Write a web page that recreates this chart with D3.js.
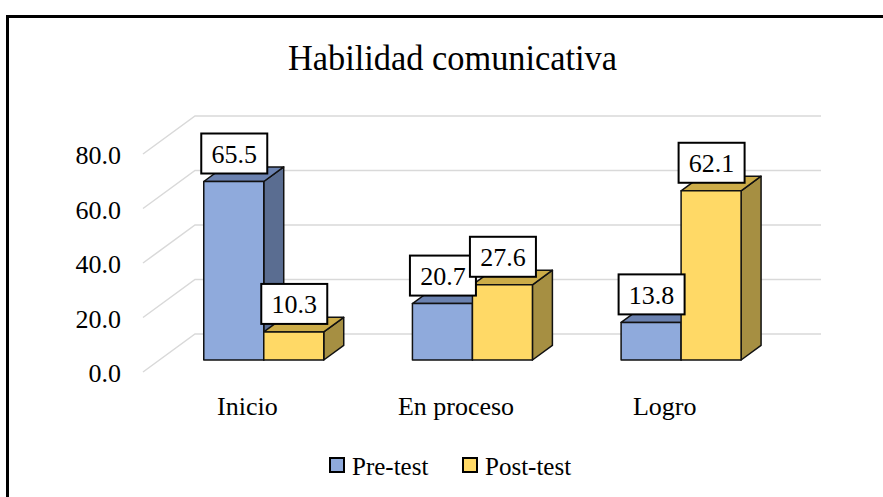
<!DOCTYPE html>
<html>
<head>
<meta charset="utf-8">
<script src="https://cdn.jsdelivr.net/npm/d3@7"></script>
<style>
  body { margin: 0; background: #fff; }
</style>
</head>
<body>
<script>
// chart data
var categories = ["Inicio", "En proceso", "Logro"];
var seriesNames = ["Pre-test", "Post-test"];
var preTest = [65.5, 20.7, 13.8];
var postTest = [10.3, 27.6, 62.1];
var yTicks = [0, 20, 40, 60, 80];

var svgWidth = 883;
var svgHeight = 497;
var fontFamily = "'Liberation Serif', 'Times New Roman', Tinos, 'DejaVu Serif', serif";

// front plane of the 3d box, and the depth offset to the back wall
var plot = { left: 143, right: 769, top: 154, bottom: 372 };
var depth = { dx: 52, dy: -38 };
var barFront = 0.316, barBack = 0.70;
var barWidth = 60;

var colors = {
  "Pre-test": { front: "#8faadc", side: "#5a6d91", top: "#6b82b0" },
  "Post-test": { front: "#ffd966", side: "#a68f42", top: "#ccac48" }
};

var svg = d3.select("body")
  .append("svg")
  .attr("width", svgWidth)
  .attr("height", svgHeight)
  .style("font-family", fontFamily);

// outer frame
svg.append("rect")
  .attr("x", 7.5)
  .attr("y", 16.5)
  .attr("width", svgWidth + 20)
  .attr("height", svgHeight + 20)
  .attr("fill", "none")
  .attr("stroke", "#000")
  .attr("stroke-width", 3);

// title
svg.append("text")
  .attr("x", 452.5)
  .attr("y", 70)
  .attr("text-anchor", "middle")
  .attr("font-size", 35)
  .attr("textLength", 329)
  .attr("lengthAdjust", "spacingAndGlyphs")
  .text("Habilidad comunicativa");

var yScale = d3.scaleLinear()
  .domain([0, 80])
  .range([plot.bottom, plot.top]);

var xScale = d3.scaleBand()
  .domain(categories)
  .range([plot.left, plot.right])
  .padding(0);

var xSub = d3.scaleBand()
  .domain(seriesNames)
  .range([xScale.bandwidth() / 2 - barWidth, xScale.bandwidth() / 2 + barWidth])
  .padding(0);

// project a point from the front plane into depth d (0 = front, 1 = back wall)
function proj(x, y, d) {
  return [x + depth.dx * d, y + depth.dy * d];
}

function poly(points) {
  return points.map(function (p) { return p[0] + "," + p[1]; }).join(" ");
}

// gridlines on back wall and side wall
var grid = svg.append("g");
yTicks.forEach(function (t) {
  var a = proj(plot.left, yScale(t), 0);
  var b = proj(plot.left, yScale(t), 1);
  var c = proj(plot.right, yScale(t), 1);
  grid.append("polyline")
    .attr("points", poly([a, b, c]))
    .attr("fill", "none")
    .attr("stroke", "#d9d9d9")
    .attr("stroke-width", 1.5);
});

// y axis labels
svg.append("g")
  .selectAll("text")
  .data(yTicks)
  .enter().append("text")
  .attr("x", 121)
  .attr("y", function (d) { return yScale(d) + 10; })
  .attr("text-anchor", "end")
  .attr("font-size", 26)
  .text(function (d) { return d.toFixed(1); });

// category labels
svg.append("g")
  .selectAll("text")
  .data(categories)
  .enter().append("text")
  .attr("x", function (d) { return xScale(d) + xScale.bandwidth() / 2; })
  .attr("y", 415)
  .attr("text-anchor", "middle")
  .attr("font-size", 26)
  .text(function (d) { return d; });

// bars, drawn category by category, pre-test before post-test
var bars = [];
categories.forEach(function (c, i) {
  bars.push({ cat: c, series: "Pre-test", value: preTest[i] });
  bars.push({ cat: c, series: "Post-test", value: postTest[i] });
});

var barGroup = svg.append("g");
bars.forEach(function (b) {
  var x0 = xScale(b.cat) + xSub(b.series);
  var x1 = x0 + barWidth;
  var yt = yScale(b.value), yb = yScale(0);
  var col = colors[b.series];
  var g = barGroup.append("g")
    .attr("stroke", "#111")
    .attr("stroke-width", 1.5)
    .attr("stroke-linejoin", "round");

  g.append("polygon")
    .attr("points", poly([proj(x1, yt, barFront), proj(x1, yt, barBack), proj(x1, yb, barBack), proj(x1, yb, barFront)]))
    .attr("fill", col.side);
  g.append("polygon")
    .attr("points", poly([proj(x0, yt, barFront), proj(x1, yt, barFront), proj(x1, yt, barBack), proj(x0, yt, barBack)]))
    .attr("fill", col.top);
  g.append("polygon")
    .attr("points", poly([proj(x0, yt, barFront), proj(x1, yt, barFront), proj(x1, yb, barFront), proj(x0, yb, barFront)]))
    .attr("fill", col.front);
});

// data labels in white boxes
var labelGroup = svg.append("g");
bars.forEach(function (b) {
  var x0 = xScale(b.cat) + xSub(b.series);
  var p = proj(x0 + barWidth / 2, yScale(b.value), barFront);
  var cx = p[0] + 0.5, cy = p[1] - 28;
  labelGroup.append("rect")
    .attr("x", cx - 33)
    .attr("y", cy - 20)
    .attr("width", 66)
    .attr("height", 40)
    .attr("fill", "#fff")
    .attr("stroke", "#000")
    .attr("stroke-width", 2);
  labelGroup.append("text")
    .attr("x", cx)
    .attr("y", cy + 9.5)
    .attr("text-anchor", "middle")
    .attr("font-size", 26)
    .text(b.value.toFixed(1));
});

// legend
var legendItems = [
  { name: "Pre-test", x: 330, tx: 352 },
  { name: "Post-test", x: 463, tx: 485 }
];
var legend = svg.append("g");
legendItems.forEach(function (l) {
  legend.append("rect")
    .attr("x", l.x)
    .attr("y", 458)
    .attr("width", 14)
    .attr("height", 14)
    .attr("fill", colors[l.name].front)
    .attr("stroke", "#000")
    .attr("stroke-width", 2);
  legend.append("text")
    .attr("x", l.tx)
    .attr("y", 475)
    .attr("font-size", 25)
    .text(l.name);
});
</script>
</body>
</html>
